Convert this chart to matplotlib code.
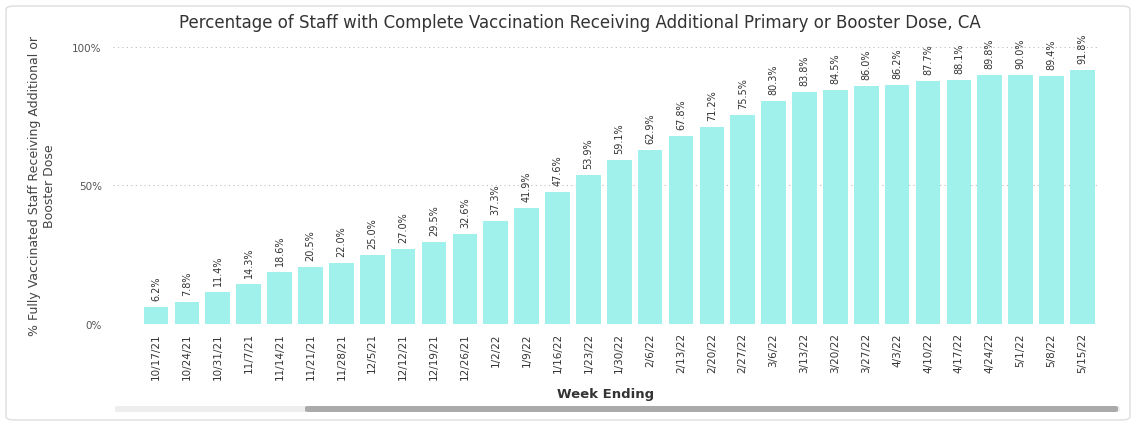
import matplotlib.pyplot as plt
from matplotlib.patches import FancyBboxPatch

# Data:

weeks = ['10/17/21', '10/24/21', '10/31/21', '11/7/21', '11/14/21', '11/21/21', '11/28/21',
         '12/5/21', '12/12/21', '12/19/21', '12/26/21', '1/2/22', '1/9/22', '1/16/22',
         '1/23/22', '1/30/22', '2/6/22', '2/13/22', '2/20/22', '2/27/22', '3/6/22',
         '3/13/22', '3/20/22', '3/27/22', '4/3/22', '4/10/22', '4/17/22', '4/24/22',
         '5/1/22', '5/8/22', '5/15/22']
pct = [6.2, 7.8, 11.4, 14.3, 18.6, 20.5, 22.0, 25.0, 27.0, 29.5, 32.6, 37.3, 41.9, 47.6,
       53.9, 59.1, 62.9, 67.8, 71.2, 75.5, 80.3, 83.8, 84.5, 86.0, 86.2, 87.7, 88.1, 89.8,
       90.0, 89.4, 91.8]
y_ticks = [0, 50, 100]

bar_color = '#A0F0EB'
text_color = '#333333'

fig = plt.figure(figsize=(11.4, 4.27), dpi=100)

# card background
card = FancyBboxPatch((6 / 1140, 6 / 427), 1124 / 1140, 414 / 427,
                      boxstyle='round,pad=0,rounding_size=0.008',
                      transform=fig.transFigure, facecolor='white',
                      edgecolor='#dddddd', lw=1.0, zorder=-5)
fig.patches.append(card)

ax = fig.add_axes([0.099, 0.239, 0.864, 0.649])
ax.patch.set_alpha(0)
x = list(range(len(weeks)))
ax.bar(x, pct, width=0.8, color=bar_color, zorder=2)

for xi, v in zip(x, pct):
    ax.text(xi, v + 2.5, f'{v:.1f}%', rotation=90, ha='center', va='bottom',
            fontsize=7, color=text_color, clip_on=False)

ax.set_xlim(-1.4, 30.5)
ax.set_ylim(0, 100)
ax.set_yticks(y_ticks)
ax.set_yticklabels([f'{t}%' for t in y_ticks], fontsize=7.5, color='#555555')
ax.set_xticks(x)
ax.set_xticklabels(weeks, rotation=90, fontsize=7.5, color=text_color)
ax.tick_params(length=0, pad=6)
ax.tick_params(axis='y', pad=8)
for s in ax.spines.values():
    s.set_visible(False)
ax.grid(axis='y', ls=(0, (1, 3)), color='#bbbbbb', lw=0.8, zorder=0)
ax.set_axisbelow(True)

ax.set_xlabel('Week Ending', fontsize=9.5, fontweight='bold', color='#333333', labelpad=6)
ax.set_ylabel('% Fully Vaccinated Staff Receiving Additional or\nBooster Dose',
              fontsize=9, color='#444444', labelpad=12)

fig.text(0.509, 0.945, 'Percentage of Staff with Complete Vaccination Receiving Additional '
         'Primary or Booster Dose, CA', ha='center', va='center', fontsize=12, color='#333333')

# scrollbar
track = FancyBboxPatch((115 / 1140, 14 / 427), 1005 / 1140, 6 / 427,
                       boxstyle='round,pad=0,rounding_size=0.003',
                       transform=fig.transFigure, facecolor='#eeeeee', edgecolor='none')
thumb = FancyBboxPatch((305 / 1140, 14 / 427), 813 / 1140, 6 / 427,
                       boxstyle='round,pad=0,rounding_size=0.003',
                       transform=fig.transFigure, facecolor='#aaaaaa', edgecolor='none')
fig.patches.extend([track, thumb])

plt.savefig('out.png', dpi=100)
